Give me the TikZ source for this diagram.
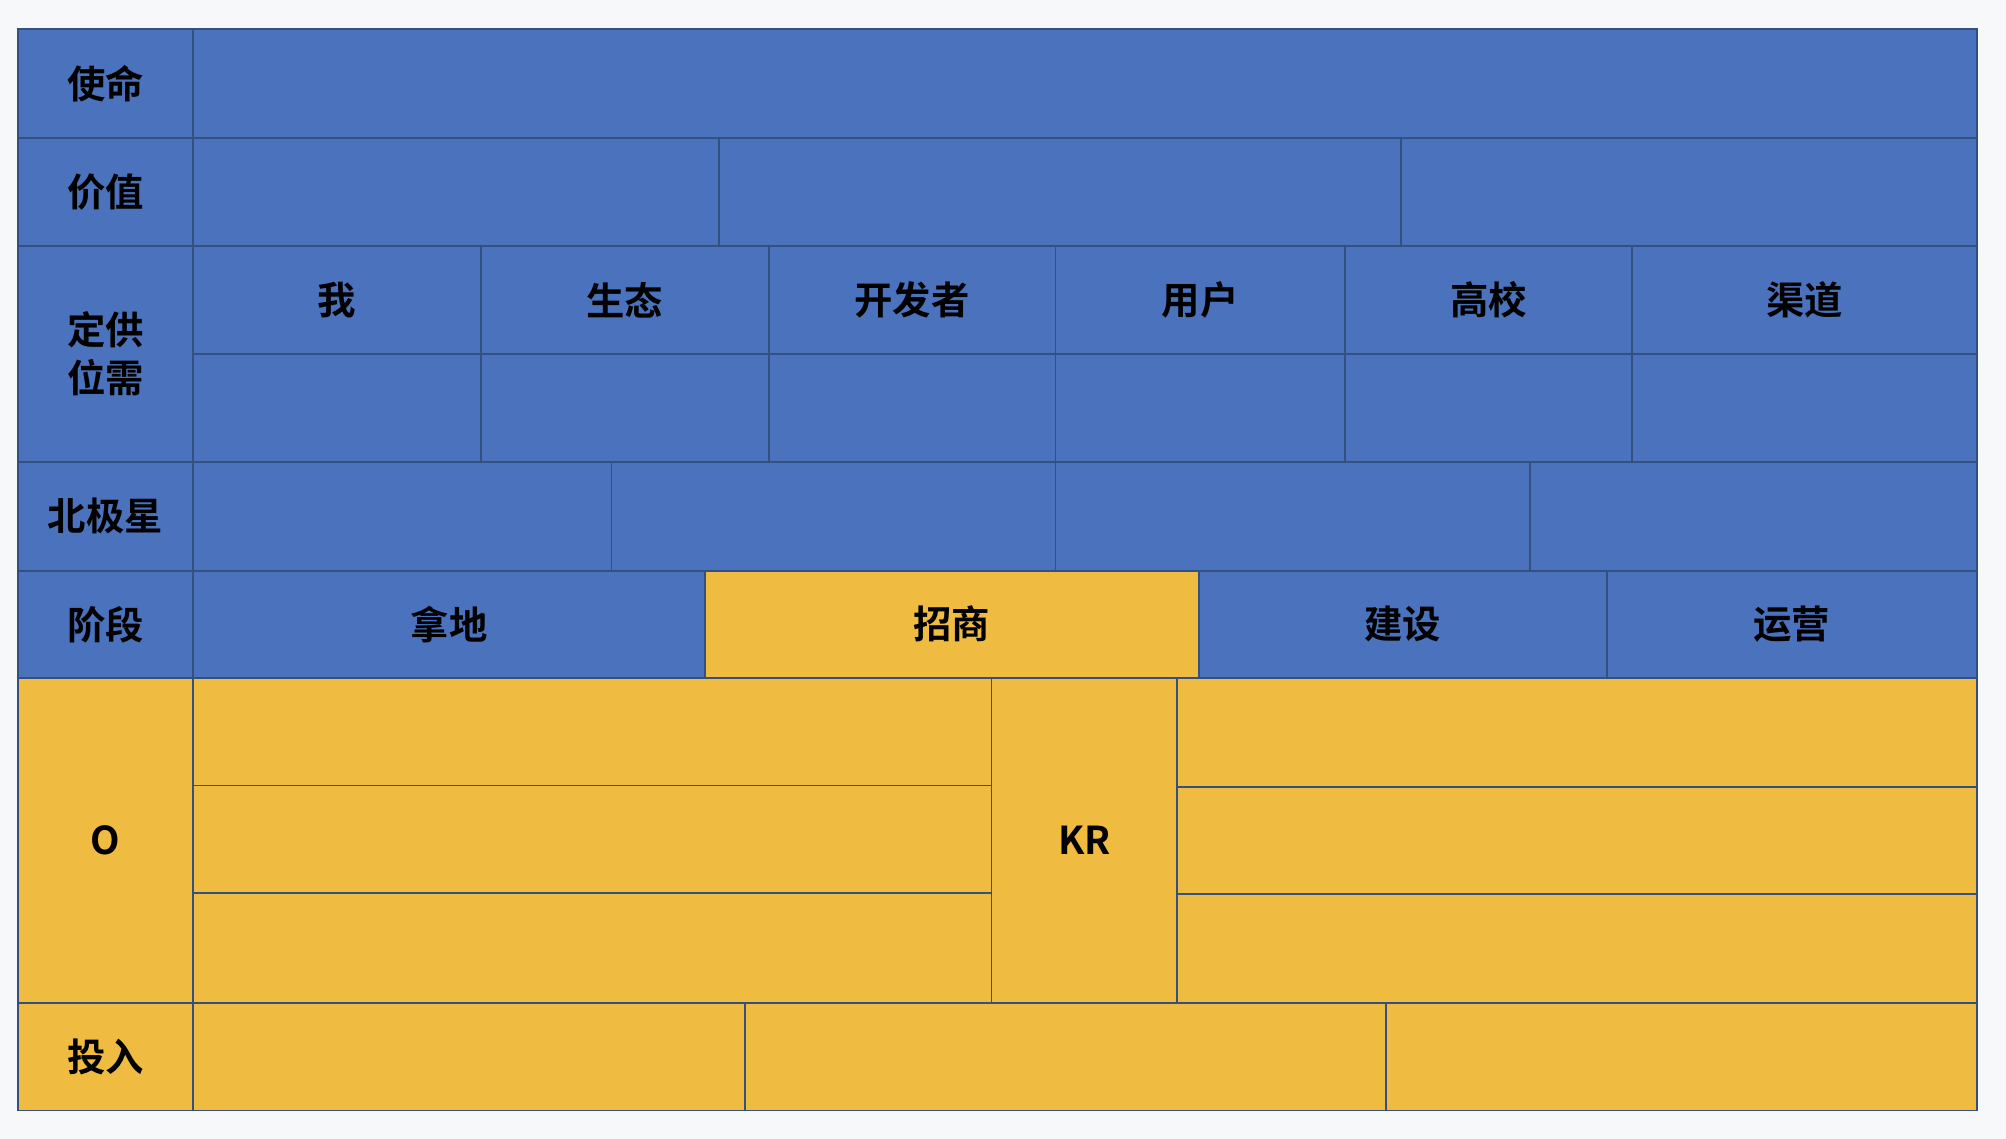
\documentclass[tikz,border=0pt]{standalone}
\usepackage{fontspec}
\setmainfont{Noto Sans CJK SC}[BoldFont={Noto Sans CJK SC Bold}]
\definecolor{bg}{HTML}{F7F8FA}
\definecolor{cblue}{HTML}{4A72BD}
\definecolor{cyel}{HTML}{EFBC41}
\definecolor{cline}{HTML}{34507F}
\tikzset{
  cellbox/.style={draw=cline, line width=1.5pt, rectangle, inner sep=0pt, outer sep=0pt,
    anchor=north west, align=center, font=\fontsize{30}{37}\selectfont\bfseries, text=black}
}
\newcommand\mycell[7]{%
  \node[cellbox, fill=#6, minimum width={(#4-#2)*1pt}, minimum height={(#5-#3)*1pt}] (#1) at (#2,#3) {#7};}
\begin{document}
\begin{tikzpicture}[x=1pt,y=-1pt]
\fill[bg] (0,0) rectangle (1568,890);
\useasboundingbox (0,0) rectangle (1568,890);
% row 1
\mycell{l1}{14}{23}{151}{108}{cblue}{使命}
\mycell{m1}{151}{23}{1545}{108}{cblue}{}
% row 2
\mycell{l2}{14}{108}{151}{192}{cblue}{价值}
\mycell{v1}{151}{108}{562}{192}{cblue}{}
\mycell{v2}{562}{108}{1095}{192}{cblue}{}
\mycell{v3}{1095}{108}{1545}{192}{cblue}{}
% row 3-4
\mycell{l3}{14}{192}{151}{361}{cblue}{定供\\位需}
\mycell{p1}{151}{192}{376}{277}{cblue}{我}
\mycell{p2}{376}{192}{601}{277}{cblue}{生态}
\mycell{p3}{601}{192}{825}{277}{cblue}{开发者}
\mycell{p4}{825}{192}{1051}{277}{cblue}{用户}
\mycell{p5}{1051}{192}{1276}{277}{cblue}{高校}
\mycell{p6}{1276}{192}{1545}{277}{cblue}{渠道}
\mycell{q1}{151}{277}{376}{361}{cblue}{}
\mycell{q2}{376}{277}{601}{361}{cblue}{}
\mycell{q3}{601}{277}{825}{361}{cblue}{}
\mycell{q4}{825}{277}{1051}{361}{cblue}{}
\mycell{q5}{1051}{277}{1276}{361}{cblue}{}
\mycell{q6}{1276}{277}{1545}{361}{cblue}{}
% row 5
\mycell{l5}{14}{361}{151}{446}{cblue}{北极星}
\mycell{n1}{151}{361}{478}{446}{cblue}{}
\mycell{n2}{478}{361}{825}{446}{cblue}{}
\mycell{n3}{825}{361}{1196}{446}{cblue}{}
\mycell{n4}{1196}{361}{1545}{446}{cblue}{}
% row 6
\mycell{l6}{14}{446}{151}{530}{cblue}{阶段}
\mycell{s1}{151}{446}{551}{530}{cblue}{拿地}
\mycell{s2}{551}{446}{937}{530}{cyel}{招商}
\mycell{s3}{937}{446}{1256}{530}{cblue}{建设}
\mycell{s4}{1256}{446}{1545}{530}{cblue}{运营}
% O / KR
\mycell{lo}{14}{530}{151}{784}{cyel}{O}
\mycell{o1}{151}{530}{775}{614}{cyel}{}
\mycell{o2}{151}{614}{775}{698}{cyel}{}
\mycell{o3}{151}{698}{775}{784}{cyel}{}
\mycell{kr}{775}{530}{920}{784}{cyel}{KR}
\mycell{k1}{920}{530}{1545}{615}{cyel}{}
\mycell{k2}{920}{615}{1545}{699}{cyel}{}
\mycell{k3}{920}{699}{1545}{784}{cyel}{}
% input
\mycell{l8}{14}{784}{151}{868}{cyel}{投入}
\mycell{t1}{151}{784}{582}{868}{cyel}{}
\mycell{t2}{582}{784}{1083}{868}{cyel}{}
\mycell{t3}{1083}{784}{1545}{868}{cyel}{}
\end{tikzpicture}
\end{document}
